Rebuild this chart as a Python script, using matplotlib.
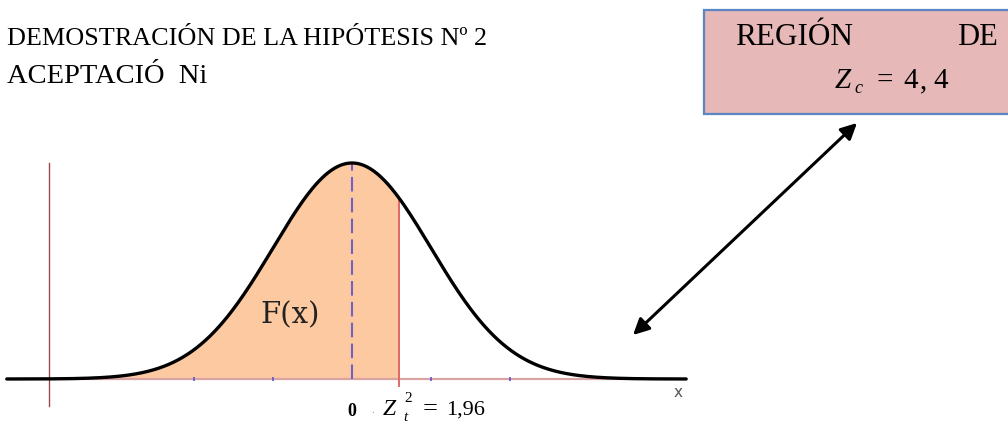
import numpy as np
import matplotlib
matplotlib.use("Agg")
import matplotlib.pyplot as plt
from matplotlib.patches import Rectangle

# ---- data ----
mu = 0.0
sigma = 1.0
z_left_end = -4.37
z_right_end = 4.23
z_boundary = 0.6          # position where the red boundary is drawn
tick_positions = [-2, -1, 1, 2]
title_lines = ["DEMOSTRACIÓN DE LA HIPÓTESIS Nº 2", "ACEPTACIÓ  Ni"]
box_words = ["REGIÓN", "DE"]
zc_parts = ["Z", "c", "=", "4", ",", "4"]
zt_parts = ["Z", "2", "t", "=", "1,96"]
fx_label = "F(x)"
origin_label = "0"
axis_label = "x"

# ---- layout (pixels) ----
W, H = 1008, 422
cx, base_y, peak_y, px_per_sd = 352, 379, 163, 79
peak_val = 1 / (sigma * np.sqrt(2 * np.pi))
px_per_unit = (base_y - peak_y) / peak_val

fig = plt.figure(figsize=(W / 100, H / 100), dpi=100)
ax = fig.add_axes([0, 0, 1, 1])
ax.set_xlim(-cx / px_per_sd, (W - cx) / px_per_sd)
ax.set_ylim(-(H - base_y) / px_per_unit, base_y / px_per_unit)
ax.axis('off')

def pdf(z):
    return np.exp(-0.5 * ((z - mu) / sigma) ** 2) / (sigma * np.sqrt(2 * np.pi))

def zx(px):
    return (px - cx) / px_per_sd

def vy(py):
    return (base_y - py) / px_per_unit

z = np.linspace(z_left_end, z_right_end, 600)
zf = np.linspace(z_left_end, z_boundary, 400)

# shaded area
ax.fill_between(zf, 0, pdf(zf), color='#fdc9a1', lw=0, zorder=1)
# x axis line
ax.plot([zx(10), zx(668)], [0, 0], color='#d9a3a3', lw=1.6, zorder=2)
# vertical axis
ax.plot([zx(49), zx(49)], [vy(163), vy(406)], color='#9a4a4a', lw=1.0, zorder=2)
# ticks
ax.plot(tick_positions, [0] * len(tick_positions), ls='none', marker='|',
        ms=3, mew=1.3, color='#6a5fc8', zorder=3)
# mean dashed line
ax.plot([mu, mu], [0, pdf(mu)], color='#7060c8', lw=1.5, ls=(0, (7, 3)), zorder=3)
# boundary line
ax.plot([z_boundary, z_boundary], [vy(386), pdf(z_boundary)], color='#e06868', lw=1.4, zorder=3)
# curve
ax.plot(z, pdf(z), color='black', lw=2.4, zorder=4, solid_capstyle='round')

# ---- overlay for annotations in pixel coords ----
ov = fig.add_axes([0, 0, 1, 1], facecolor='none')
ov.set_xlim(0, W)
ov.set_ylim(H, 0)
ov.axis('off')

serif = 'Liberation Serif'
ov.text(7, 45, title_lines[0], fontsize=18.8, family=serif, va='baseline', ha='left')
ov.text(7, 83, title_lines[1], fontsize=20.5, family=serif, va='baseline', ha='left')

ov.add_patch(Rectangle((704, 10), 320, 104, facecolor='#e6b8b7', edgecolor='#5b86c4', lw=1.6, zorder=1))
ov.text(735, 45, box_words[0], fontsize=22.5, family=serif, va='baseline', ha='left', zorder=2)
ov.text(957, 45, box_words[1], fontsize=22, family=serif, va='baseline', ha='left', zorder=2)

# Z_c = 4,4
ov.text(835, 88, zc_parts[0], fontsize=21, family=serif, style='italic', va='baseline', zorder=2)
ov.text(854, 93, zc_parts[1], fontsize=13, family=serif, style='italic', va='baseline', zorder=2)
ov.text(876, 88, zc_parts[2], fontsize=21, family=serif, va='baseline', zorder=2)
ov.text(903, 88, zc_parts[3], fontsize=21, family=serif, va='baseline', zorder=2)
ov.text(920, 88, zc_parts[4], fontsize=21, family=serif, va='baseline', zorder=2)
ov.text(933, 88, zc_parts[5], fontsize=21, family=serif, va='baseline', zorder=2)

ov.annotate('', xy=(857, 123), xytext=(633, 335),
            arrowprops=dict(arrowstyle='<|-|>', color='black', lw=2.2, mutation_scale=24,
                            shrinkA=0, shrinkB=0))

ov.text(290, 323, fx_label, fontsize=21, family='DejaVu Serif', va='baseline', ha='center', color='#222222')
ov.text(352, 416, origin_label, fontsize=13, family=serif, weight='bold', va='baseline', ha='center')
ov.text(373, 413, '.', fontsize=8, family=serif, va='baseline', ha='center', color='#999999')

# Z_t^2 = 1,96
ov.text(383, 415, zt_parts[0], fontsize=17, family=serif, style='italic', va='baseline')
ov.text(404, 402, zt_parts[1], fontsize=11, family=serif, va='baseline')
ov.text(403, 421, zt_parts[2], fontsize=11, family=serif, style='italic', va='baseline')
ov.text(423, 415, zt_parts[3], fontsize=19, family=serif, va='baseline')
ov.text(446, 415, zt_parts[4], fontsize=16, family=serif, va='baseline')

ov.text(678, 397, axis_label, fontsize=11, family='DejaVu Sans', va='baseline', ha='center', color='#555555')

fig.savefig('out.png', dpi=100)
